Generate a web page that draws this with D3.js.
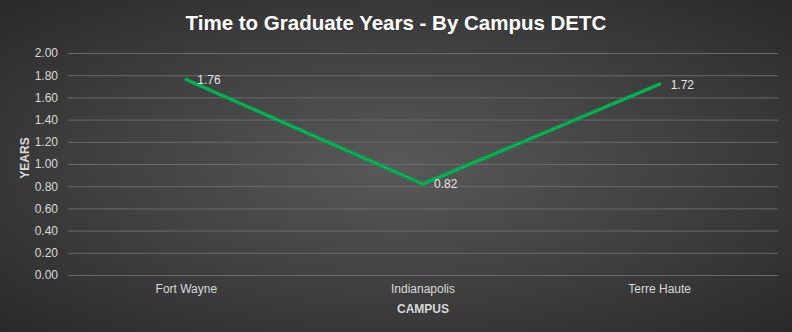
<!DOCTYPE html>
<html><head><meta charset="utf-8">
<script src="https://cdn.jsdelivr.net/npm/d3@7"></script>
<style>body{margin:0;background:#333;}svg{display:block;font-family:"Liberation Sans",Arial,Helvetica,sans-serif;}</style>
</head><body>
<svg id="c" width="792" height="332"></svg>
<script>
const categories = ["Fort Wayne", "Indianapolis", "Terre Haute"];
const values = [1.76, 0.82, 1.72];
const yTicks = [0, 0.2, 0.4, 0.6, 0.8, 1.0, 1.2, 1.4, 1.6, 1.8, 2.0];
const title = "Time to Graduate Years - By Campus DETC";
const xTitle = "CAMPUS";
const yTitle = "YEARS";

const W = 792, H = 332;
const m = {left: 68, right: 14, top: 53, bottom: 57};
const svg = d3.select("#c");
const defs = svg.append("defs");
const g0 = defs.append("radialGradient").attr("id","bg").attr("cx","50%").attr("cy","50%").attr("r","75%");
g0.append("stop").attr("offset","0%").attr("stop-color","#595959");
g0.append("stop").attr("offset","100%").attr("stop-color","#262626");
svg.append("rect").attr("width",W).attr("height",H).attr("fill","url(#bg)");

const x = d3.scaleBand().domain(categories).range([m.left, W - m.right]);
const y = d3.scaleLinear().domain([0, 2]).range([H - m.bottom, m.top]);

// gridlines
svg.append("g").selectAll("line").data(yTicks).join("line")
  .attr("x1", m.left).attr("x2", W - m.right)
  .attr("y1", d => y(d) + 0.5).attr("y2", d => y(d) + 0.5)
  .attr("stroke", "#6a6a6a").attr("stroke-width", 1);

// y axis
const ya = svg.append("g").attr("transform", `translate(${m.left},0)`)
  .call(d3.axisLeft(y).tickValues(yTicks).tickFormat(d3.format(".2f")).tickSize(0).tickPadding(10));
ya.select(".domain").remove();
ya.selectAll("text").attr("fill", "#d9d9d9").style("font-size", "12px");

// x axis
const xa = svg.append("g").attr("transform", `translate(0,${H - m.bottom})`)
  .call(d3.axisBottom(x).tickSize(0).tickPadding(9));
xa.select(".domain").remove();
xa.selectAll("text").attr("fill", "#d9d9d9").style("font-size", "12px");

// line
const line = d3.line().x((d,i) => x(categories[i]) + x.bandwidth()/2).y(d => y(d));
svg.append("path").datum(values).attr("d", line)
  .attr("fill", "none").attr("stroke", "#00b050").attr("stroke-width", 3.5)
  .attr("stroke-linecap", "round").attr("stroke-linejoin", "miter");

// data labels
svg.append("g").selectAll("text").data(values).join("text")
  .attr("x", (d,i) => x(categories[i]) + x.bandwidth()/2 + 11)
  .attr("y", d => y(d) + 4.5)
  .attr("fill", "#e6e6e6").style("font-size", "12px")
  .text(d => d.toFixed(2));

// titles
svg.append("text").attr("x", 396).attr("y", 30).attr("text-anchor", "middle")
  .attr("fill", "#ffffff").style("font-size", "20.5px").style("font-weight", "bold").text(title);
svg.append("text").attr("x", 423).attr("y", 313).attr("text-anchor", "middle")
  .attr("fill", "#d9d9d9").style("font-size", "12px").style("font-weight", "bold").text(xTitle);
svg.append("text").attr("transform", `translate(28.5,158) rotate(-90)`).attr("text-anchor", "middle")
  .attr("fill", "#d9d9d9").style("font-size", "12px").style("font-weight", "bold").text(yTitle);
</script>
</body></html>
